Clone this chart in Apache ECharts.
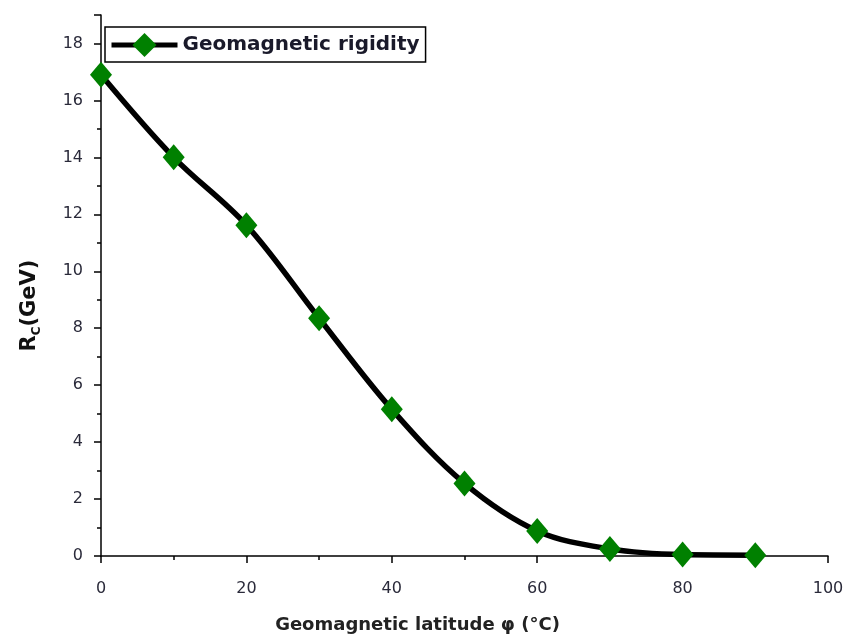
<!DOCTYPE html>
<html>
<head>
<meta charset="utf-8">
<script src="https://cdn.jsdelivr.net/npm/echarts@6/dist/echarts.min.js"></script>
<style>
  html, body { margin: 0; padding: 0; background: #fff; }
  #chart { width: 852px; height: 639px; }
</style>
</head>
<body>
<div id="chart"></div>
<script>
// latitude (deg) vs cutoff rigidity (GeV)
const latitude = [0, 10, 20, 30, 40, 50, 60, 70, 80, 90];
const rigidity = [16.9, 14.0, 11.62, 8.35, 5.15, 2.55, 0.88, 0.25, 0.05, 0.03];
const seriesName = 'Geomagnetic rigidity';

const chart = echarts.init(document.getElementById('chart'));

const labelFont = { fontFamily: 'DejaVu Sans', fontSize: 16, color: '#2a2a3a' };
const tickLine = { color: '#000', width: 1.5 };

chart.setOption({
  animation: false,
  grid: { left: 101, right: 24, top: 15, bottom: 81 },
  legend: {
    left: 105, top: 27,
    padding: [6, 6, 5, 4],
    borderColor: '#000', borderWidth: 1.5,
    itemWidth: 66, itemHeight: 30, itemGap: 4,
    lineStyle: { width: 5, color: '#000' },
    textStyle: { fontFamily: 'DejaVu Sans', fontSize: 20, fontWeight: 'bold', color: '#1a1a2a' },
    data: [seriesName]
  },
  xAxis: {
    type: 'value', min: 0, max: 100, interval: 20,
    name: 'Geomagnetic latitude φ (°C)',
    nameLocation: 'middle', nameGap: 60,
    nameTextStyle: {
      fontFamily: 'DejaVu Sans', fontSize: 18, fontWeight: 'bold', color: '#222',
      padding: [0, 94, 0, 0]
    },
    axisLine: { lineStyle: tickLine },
    axisTick: { inside: false, length: 7, lineStyle: tickLine },
    minorTick: { show: true, splitNumber: 2, length: 4, lineStyle: tickLine },
    axisLabel: Object.assign({ margin: 25 }, labelFont),
    splitLine: { show: false }
  },
  yAxis: {
    type: 'value', min: 0, max: 19, interval: 2,
    name: '{b|R}{s|C}{b|(GeV)}',
    nameLocation: 'middle', nameGap: 58, nameRotate: 90,
    nameTextStyle: {
      padding: [0, 40, 0, 0],
      rich: {
        b: { fontFamily: 'DejaVu Sans', fontSize: 21, fontWeight: 'bold', color: '#111' },
        s: { fontFamily: 'DejaVu Sans', fontSize: 12, fontWeight: 'bold', color: '#111', verticalAlign: 'bottom', padding: [14, 0, 0, 0] }
      }
    },
    axisLine: { show: true, lineStyle: tickLine },
    axisTick: { show: true, inside: false, length: 7, lineStyle: tickLine },
    minorTick: { show: true, splitNumber: 2, length: 4, lineStyle: tickLine },
    axisLabel: Object.assign({ margin: 18, formatter: v => (v % 2 === 0 ? v : '') }, labelFont),
    splitLine: { show: false }
  },
  series: [{
    name: seriesName,
    type: 'line',
    smooth: 0.35,
    clip: true,
    data: latitude.map((x, i) => [x, rigidity[i]]),
    symbol: 'diamond',
    symbolSize: [22, 26],
    itemStyle: { color: '#008000' },
    lineStyle: { color: '#000', width: 5.5 }
  }]
});
</script>
</body>
</html>
